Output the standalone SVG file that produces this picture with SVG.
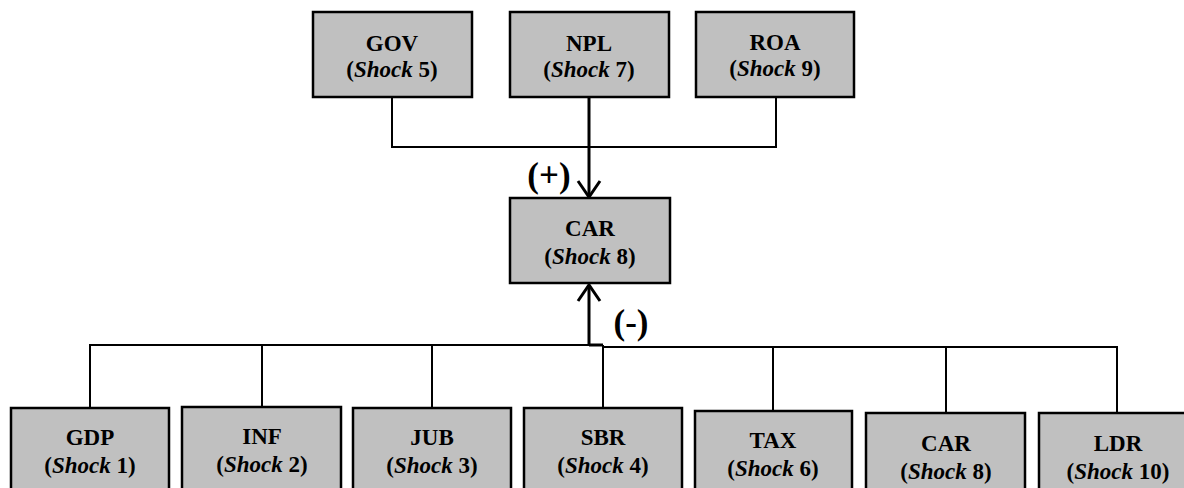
<svg xmlns="http://www.w3.org/2000/svg" width="1184" height="488" viewBox="0 0 1184 488">
<style>
.box{fill:#c0c0c0;stroke:#000;stroke-width:2.5}
.t{font-family:'Liberation Serif','Times New Roman',serif;font-size:23px;font-weight:bold;text-anchor:middle;fill:#000}
.i{font-style:italic}
.c{fill:none;stroke:#000;stroke-width:2}
.m{fill:none;stroke:#000;stroke-width:3}
.lbl{font-family:'Liberation Serif','Times New Roman',serif;font-size:35px;font-weight:bold;text-anchor:middle;fill:#000}
</style>
<g id="connectors">
<path class="c" d="M392 97V147H776V97"/>
<path class="m" d="M589 97V197"/>
<path class="m" d="M578 181L589 197L600 181"/>
<path class="m" d="M589 345V285"/>
<path class="m" d="M578 301L589 285L600 301"/>
<path class="c" d="M90 408V345H603"/>
<path class="c" d="M262 345V407"/>
<path class="c" d="M432 345V408"/>
<path class="m" d="M589 345H603"/>
<path class="c" d="M603 345V408"/>
<path class="c" d="M603 347H1117V413"/>
<path class="c" d="M773 347V411"/>
<path class="c" d="M946 347V413"/>
<text class="lbl" x="549" y="187">(+)</text>
<text class="lbl" x="631" y="334">(-)</text>
</g>
<g id="gov"><rect class="box" x="313" y="12" width="159" height="85"/><text class="t" x="392" y="51">GOV</text><text class="t" x="392" y="77">(<tspan class="i">Shock</tspan> 5)</text></g>
<g id="npl"><rect class="box" x="510" y="12" width="159" height="85"/><text class="t" x="589" y="51">NPL</text><text class="t" x="589" y="77">(<tspan class="i">Shock</tspan> 7)</text></g>
<g id="roa"><rect class="box" x="696" y="12" width="158" height="85"/><text class="t" x="775" y="50">ROA</text><text class="t" x="775" y="76">(<tspan class="i">Shock</tspan> 9)</text></g>
<g id="car-center"><rect class="box" x="510" y="198" width="160" height="85"/><text class="t" x="590" y="236">CAR</text><text class="t" x="590" y="264">(<tspan class="i">Shock</tspan> 8)</text></g>
<g id="gdp"><rect class="box" x="11" y="408" width="158" height="90"/><text class="t" x="90" y="445">GDP</text><text class="t" x="90" y="473">(<tspan class="i">Shock</tspan> 1)</text></g>
<g id="inf"><rect class="box" x="182" y="407" width="159" height="90"/><text class="t" x="262" y="444">INF</text><text class="t" x="262" y="472">(<tspan class="i">Shock</tspan> 2)</text></g>
<g id="jub"><rect class="box" x="353" y="408" width="158" height="90"/><text class="t" x="432" y="445">JUB</text><text class="t" x="432" y="473">(<tspan class="i">Shock</tspan> 3)</text></g>
<g id="sbr"><rect class="box" x="524" y="408" width="158" height="90"/><text class="t" x="603" y="445">SBR</text><text class="t" x="603" y="473">(<tspan class="i">Shock</tspan> 4)</text></g>
<g id="tax"><rect class="box" x="695" y="411" width="157" height="90"/><text class="t" x="773" y="448">TAX</text><text class="t" x="773" y="476">(<tspan class="i">Shock</tspan> 6)</text></g>
<g id="car-bottom"><rect class="box" x="866" y="413" width="159" height="90"/><text class="t" x="946" y="451">CAR</text><text class="t" x="946" y="479">(<tspan class="i">Shock</tspan> 8)</text></g>
<g id="ldr"><rect class="box" x="1039" y="413" width="158" height="90"/><text class="t" x="1118" y="451">LDR</text><text class="t" x="1118" y="479">(<tspan class="i">Shock</tspan> 10)</text></g>
</svg>
